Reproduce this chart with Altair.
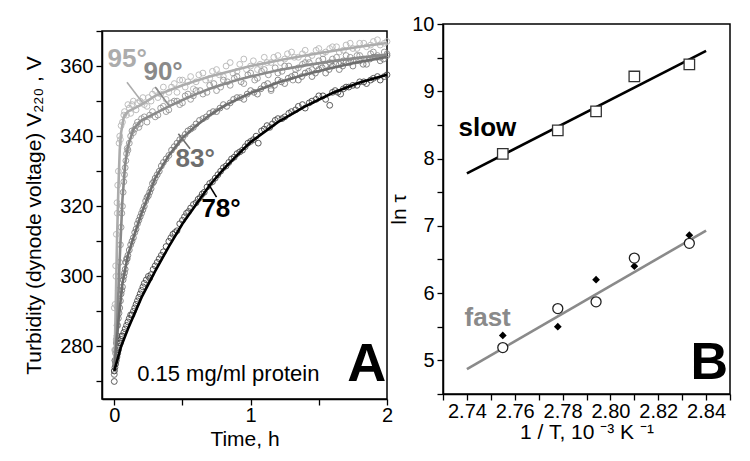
import altair as alt
import pandas as pd

FONT = "Liberation Sans"

# ---------------- Panel A: turbidity kinetics ----------------
curves = ["95°", "90°", "83°", "78°"]
line_colors = ["#acacac", "#8a8a8a", "#6e6e6e", "#000000"]
point_colors = ["#b8b8b8", "#969696", "#7c7c7c", "#4a4a4a"]

# measured points (time h, V220 V)
t95 = [0.000, 0.003, 0.000, 0.006, 0.010, 0.015, 0.020, 0.025, 0.030, 0.035, 0.040, 0.050, 0.060, 0.075,
       0.090, 0.110, 0.130, 0.160, 0.190, 0.220, 0.250, 0.280, 0.320, 0.360, 0.400, 0.440, 0.480, 0.520,
       0.560, 0.600, 0.650, 0.700, 0.750, 0.800, 0.850, 0.900, 0.950, 1.000, 1.050, 1.100, 1.150, 1.200,
       1.250, 1.300, 1.350, 1.400, 1.450, 1.500, 1.550, 1.600, 1.650, 1.700, 1.750, 1.800, 1.850, 1.900,
       1.950, 2.000,
       0.012, 0.022, 0.045, 0.070, 0.100, 0.120, 0.140, 0.170, 0.210, 0.240, 0.270, 0.300, 0.340, 0.380,
       0.420, 0.460, 0.500, 0.540, 0.580, 0.620, 0.670, 0.720, 0.770, 0.820, 0.870, 0.920, 0.970, 1.020,
       1.070, 1.120, 1.170, 1.220, 1.270, 1.320, 1.380, 1.420, 1.480, 1.530, 1.580, 1.630, 1.680, 1.730,
       1.780, 1.830, 1.880, 1.930, 1.980]
v95 = [272, 279, 291, 292, 303, 312, 321, 326, 330, 338, 340, 343, 344, 347,
       346, 348, 349, 347.5, 350, 349, 351, 352, 351, 354, 352.5, 355, 356, 354,
       357, 355.5, 358, 356.5, 359, 357, 361, 358.5, 362, 360, 359, 362.5, 361, 363,
       362, 364, 362.5, 364.5, 363, 365, 364, 365.5, 364, 366, 365, 366.5, 365.5, 367,
       366, 367,
       300, 318, 339, 346, 349, 346.5, 350, 349.5, 351, 348.5, 350, 353, 352, 350.5,
       354, 352.5, 356, 355.5, 353.5, 357.5, 356, 358.5, 357.5, 360, 358, 360.5, 359, 361.5,
       360.5, 361, 362.5, 361, 363.5, 362.5, 363.5, 362, 364.5, 363.5, 365, 365.5, 364.5, 366.5,
       365, 366.5, 366, 367.5, 366.5]

t90 = [0.000, 0.005, 0.010, 0.020, 0.030, 0.040, 0.050, 0.060, 0.070, 0.080, 0.090, 0.100, 0.120, 0.140,
       0.160, 0.180, 0.200, 0.240, 0.280, 0.320, 0.360, 0.400, 0.440, 0.480, 0.520, 0.560, 0.600, 0.650,
       0.700, 0.750, 0.800, 0.850, 0.900, 0.950, 1.000, 1.050, 1.100, 1.150, 1.200, 1.250, 1.310, 1.350,
       1.400, 1.450, 1.500, 1.550, 1.600, 1.650, 1.700, 1.750, 1.800, 1.850, 1.900, 1.950, 2.000,
       0.015, 0.025, 0.035, 0.045, 0.055, 0.065, 0.075, 0.085, 0.095, 0.110, 0.130, 0.150, 0.170, 0.190,
       0.220, 0.260, 0.300, 0.340, 0.380, 0.420, 0.460, 0.500, 0.540, 0.580, 0.630, 0.680, 0.730, 0.780,
       0.830, 0.880, 0.930, 0.980, 1.030, 1.080, 1.130, 1.180, 1.230, 1.280, 1.330, 1.380, 1.430, 1.480,
       1.530, 1.580, 1.630, 1.680, 1.730, 1.780, 1.830, 1.880, 1.930, 1.980]
v90 = [273, 276, 279, 286, 296, 304, 314, 320, 327, 331, 335, 336, 340, 341,
       343, 342.5, 345, 344, 347, 346, 348.5, 347.5, 350, 349, 351.5, 350.5, 353, 352,
       354.5, 353, 356, 354.5, 357, 355, 358, 356.5, 359, 353, 358, 360, 356, 359.5,
       361, 359, 361.5, 360, 362, 360.5, 363, 361.5, 363, 362, 364, 362.5, 363.5,
       282, 291, 300, 309, 318, 324, 329, 333, 336.5, 338, 341.5, 342, 344, 343.5,
       345.5, 346, 345.5, 348, 347, 349.5, 350, 349.5, 352, 351.5, 353, 352.5, 355, 354,
       355.5, 356.5, 355.5, 357.5, 356, 358.5, 357.5, 359.5, 358.5, 360, 359, 360.5, 361, 360,
       362, 361, 362.5, 361.5, 362.5, 363, 362, 363.5, 363, 364]

t83 = [0.000, 0.010, 0.020, 0.030, 0.040, 0.050, 0.060, 0.070, 0.080, 0.090, 0.100, 0.120, 0.140, 0.160,
       0.180, 0.200, 0.220, 0.240, 0.260, 0.280, 0.300, 0.330, 0.360, 0.400, 0.440, 0.480, 0.520, 0.560,
       0.600, 0.650, 0.700, 0.750, 0.800, 0.850, 0.900, 0.950, 1.000, 1.050, 1.100, 1.150, 1.200, 1.250,
       1.300, 1.350, 1.400, 1.450, 1.500, 1.550, 1.600, 1.650, 1.700, 1.750, 1.800, 1.850, 1.900, 1.950,
       2.000,
       0.005, 0.015, 0.025, 0.035, 0.045, 0.055, 0.065, 0.075, 0.085, 0.095, 0.110, 0.130, 0.150, 0.170,
       0.190, 0.210, 0.230, 0.250, 0.270, 0.290, 0.315, 0.345, 0.380, 0.420, 0.460, 0.500, 0.540, 0.580,
       0.625, 0.675, 0.725, 0.775, 0.825, 0.875, 0.925, 0.975, 1.025, 1.075, 1.125, 1.175, 1.225, 1.275,
       1.325, 1.375, 1.425, 1.475, 1.525, 1.575, 1.625, 1.675, 1.725, 1.775, 1.825, 1.875, 1.925, 1.975]
v83 = [272, 278, 283, 288, 291, 295, 297, 300, 302, 305, 306, 309, 311, 313.5,
       316, 318, 320, 322.5, 324, 326.5, 328, 330, 332.5, 334.5, 337, 339, 340.5, 342,
       343.5, 345, 346.5, 347, 349, 349.5, 351, 350.5, 353, 352, 354.5, 353.5, 356, 355,
       357, 356, 358, 357, 359, 358, 360, 359, 361, 360, 361.5, 360.5, 362.5, 361.5,
       363,
       276, 281, 286, 289.5, 293, 296, 299, 301, 304, 305, 307.5, 310, 312.5, 315,
       317, 319, 321.5, 323, 325, 327, 329, 331.5, 333.5, 336, 338, 339.5, 341.5, 342.5,
       344.5, 345.5, 347, 348, 348.5, 350.5, 351, 352, 352.5, 353.5, 355, 354.5, 355.5, 356.5,
       357.5, 357, 358.5, 358, 359.5, 359, 360.5, 360, 361, 361.5, 360.5, 362, 362.5, 362]

t78 = [0.000, 0.000, 0.010, 0.020, 0.030, 0.040, 0.050, 0.060, 0.080, 0.100, 0.120, 0.140, 0.160, 0.180,
       0.200, 0.220, 0.250, 0.270, 0.300, 0.330, 0.360, 0.400, 0.430, 0.460, 0.500, 0.530, 0.560, 0.600,
       0.630, 0.660, 0.700, 0.740, 0.780, 0.820, 0.860, 0.900, 0.940, 0.980, 1.020, 1.056, 1.080, 1.120,
       1.160, 1.200, 1.250, 1.300, 1.350, 1.400, 1.450, 1.500, 1.550, 1.580, 1.620, 1.660, 1.700, 1.750,
       1.800, 1.850, 1.900, 1.950, 2.000,
       0.005, 0.015, 0.025, 0.035, 0.045, 0.055, 0.070, 0.090, 0.110, 0.130, 0.150, 0.170, 0.190, 0.210,
       0.235, 0.260, 0.285, 0.315, 0.345, 0.380, 0.415, 0.445, 0.480, 0.515, 0.545, 0.580, 0.615, 0.645,
       0.680, 0.720, 0.760, 0.800, 0.840, 0.880, 0.920, 0.960, 1.000, 1.040, 1.100, 1.140, 1.180, 1.230,
       1.280, 1.330, 1.380, 1.430, 1.480, 1.530, 1.600, 1.640, 1.680, 1.720, 1.780, 1.830, 1.880, 1.930,
       1.980]
v78 = [270, 273, 275, 277, 279, 281, 282, 283, 285, 287, 289, 290, 292, 294,
       296, 298, 300, 300.5, 303, 305, 307, 310, 312, 313, 316, 318, 319.5, 321,
       322.5, 324, 326.5, 328, 330, 331.5, 333.5, 335, 336, 338, 339, 338, 341.5, 343,
       343.5, 345, 345.5, 347, 348.5, 348, 350, 351.5, 350.5, 348.8, 353, 352, 354, 354.5,
       355.5, 355, 356.5, 356, 357.5,
       274, 276, 278, 280, 281, 283, 284, 286, 288, 289, 291, 293, 295, 297,
       299, 299.5, 302, 304, 306, 308.5, 311, 312.5, 315, 317, 318.5, 320.5, 322, 323.5,
       325.5, 327, 329, 331, 332.5, 334, 335.5, 337, 338.5, 340, 342, 342.5, 344.5, 345,
       346.5, 347.5, 349, 349.5, 350.5, 351.5, 352.5, 352.5, 353.5, 354, 354.5, 355.5, 356, 357,
       357]

# fitted curves
ft95 = [0, 0.01, 0.02, 0.03, 0.04, 0.05, 0.07, 0.1, 0.15, 0.2, 0.3, 0.4, 0.5, 0.6, 0.7, 0.8, 0.9, 1.0,
        1.2, 1.4, 1.6, 1.8, 2.0]
fv95 = [273, 290, 310, 325, 336, 341, 345.5, 347, 348, 349, 351.5, 353, 354.5, 355.8, 357, 358, 359, 360,
        361.6, 363, 364.3, 365.5, 366.6]
ft90 = [0, 0.02, 0.04, 0.06, 0.08, 0.1, 0.14, 0.2, 0.3, 0.4, 0.5, 0.6, 0.7, 0.8, 0.9, 1.0, 1.2, 1.4, 1.6,
        1.8, 2.0]
fv90 = [273, 285, 305, 322, 332, 337, 342, 344.5, 346.5, 348.5, 350.3, 352, 353.5, 354.8, 356, 357, 358.8,
        360.2, 361.4, 362.4, 363.2]
ft83 = [0, 0.03, 0.06, 0.1, 0.14, 0.2, 0.26, 0.3, 0.4, 0.5, 0.6, 0.7, 0.8, 0.9, 1.0, 1.2, 1.4, 1.6, 1.8,
        2.0]
fv83 = [273, 287, 298, 306, 311, 318, 324, 328, 334.5, 339.5, 343, 346, 348.5, 350.5, 352.3, 355.3, 357.6,
        359.5, 361.2, 362.6]
ft78 = [0, 0.05, 0.1, 0.15, 0.2, 0.3, 0.4, 0.5, 0.6, 0.7, 0.8, 0.9, 1.0, 1.2, 1.4, 1.6, 1.8, 2.0]
fv78 = [273, 280, 285, 289.5, 294, 301.5, 308.5, 315, 320.5, 326, 330.5, 334.5, 338.3, 344, 348.5, 352.3,
        355.3, 357.5]

# curve labels and pointer lines
lab_t = [0.095, 0.358, 0.593, 0.783]
lab_v = [362, 358.3, 333.4, 319.1]
ptr_t1 = [0.093, 0.30, 0.47, 0.69]
ptr_v1 = [355.4, 354.0, 340.7, 326.4]
ptr_t2 = [0.215, 0.40, 0.556, 0.75]
ptr_v2 = [349.2, 348.8, 336.4, 322.6]

# ---------------- Panel B: Arrhenius plot ----------------
inv_T = [2.755, 2.778, 2.794, 2.810, 2.833]
ln_slow = [8.07, 8.42, 8.70, 9.22, 9.40]
ln_fast_circ = [5.19, 5.77, 5.87, 6.52, 6.74]
ln_fast_diam = [5.37, 5.50, 6.20, 6.40, 6.86]
slow_fit_x = [2.74, 2.84]
slow_fit_y = [7.78, 9.60]
fast_fit_x = [2.74, 2.84]
fast_fit_y = [4.87, 6.93]

# ---------------- build tables ----------------
pts = pd.concat([
    pd.DataFrame({"t": t, "V": v, "curve": c})
    for t, v, c in [(t95, v95, "95°"), (t90, v90, "90°"), (t83, v83, "83°"), (t78, v78, "78°")]
])
fits = pd.concat([
    pd.DataFrame({"t": t, "V": v, "curve": c})
    for t, v, c in [(ft95, fv95, "95°"), (ft90, fv90, "90°"), (ft83, fv83, "83°"), (ft78, fv78, "78°")]
])
labels = pd.DataFrame({"t": lab_t, "V": lab_v, "curve": curves})
ptrs = pd.DataFrame({"t": ptr_t1, "V": ptr_v1, "t2": ptr_t2, "V2": ptr_v2, "curve": curves})

lcolor = alt.Color("curve:N", scale=alt.Scale(domain=curves, range=line_colors), legend=None)

pts["pc"] = pts["curve"].map(dict(zip(curves, point_colors)))

xA = alt.X("t:Q", scale=alt.Scale(domain=[-0.09, 2.0], nice=False, zero=False),
           axis=alt.Axis(values=[0, 0.5, 1, 1.5, 2],
                         labelExpr="datum.value % 1 == 0 ? format(datum.value, 'd') : ''",
                         title="Time, h", labelPadding=0, titlePadding=3))
yA = alt.Y("V:Q", scale=alt.Scale(domain=[265, 370], nice=False, zero=False),
           axis=alt.Axis(values=list(range(270, 371, 10)),
                         labelExpr="datum.value % 20 == 0 ? format(datum.value, 'd') : ''",
                         title="Turbidity (dynode voltage) V₂₂₀ , V", titlePadding=15))

a_pts = alt.Chart(pts).mark_point(shape="circle", filled=False, size=34, strokeWidth=1.0, opacity=0.9).encode(
    x=xA, y=yA, color=alt.Color("pc:N", scale=None))
a_fit = alt.Chart(fits).mark_line(strokeWidth=2.6).encode(x=xA, y=yA, color=lcolor, detail="curve:N")
a_ptr = alt.Chart(ptrs).mark_rule(strokeWidth=1.6).encode(x=xA, y=yA, x2="t2:Q", y2="V2:Q", color=lcolor)
a_lab = alt.Chart(labels).mark_text(font=FONT, fontSize=26, fontWeight="bold").encode(
    x=xA, y=yA, text="curve:N", color=lcolor)

a_note = alt.Chart(pd.DataFrame({"t": [0.168], "V": [272.0], "txt": ["0.15 mg/ml protein"]})).mark_text(
    font=FONT, fontSize=22, align="left", baseline="middle", color="black").encode(x=xA, y=yA, text="txt:N")
a_letter = alt.Chart(pd.DataFrame({"t": [1.995], "V": [266.9], "txt": ["A"]})).mark_text(
    font=FONT, fontSize=54, fontWeight="bold", align="right", baseline="bottom", color="black").encode(
    x=xA, y=yA, text="txt:N")

panelA = alt.layer(a_pts, a_fit, a_ptr, a_lab, a_note, a_letter).properties(width=285, height=368)

spacer = alt.Chart(pd.DataFrame({"s": [0]})).mark_point(opacity=0).encode(
    x=alt.value(0), y=alt.value(0)).properties(width=285, height=1, view=alt.ViewBackground(strokeOpacity=0))

leftcol = alt.vconcat(spacer, panelA, spacing=-7)

# panel B
xB = alt.X("x:Q", scale=alt.Scale(domain=[2.73, 2.85], nice=False, zero=False),
           axis=alt.Axis(values=[round(2.73 + 0.01 * i, 2) for i in range(13)],
                         labelExpr="round(datum.value * 100) % 2 == 0 ? format(datum.value, '.2f') : ''",
                         title="1 / T, 10 ⁻³   K ⁻¹", labelPadding=1, titlePadding=0))
yB = alt.Y("y:Q", scale=alt.Scale(domain=[4.5, 10], nice=False, zero=False),
           axis=alt.Axis(values=[4.5 + 0.5 * i for i in range(12)],
                         labelExpr="datum.value % 1 == 0 ? format(datum.value, 'd') : ''",
                         title="ln τ", titlePadding=2))

b_slow_line = alt.Chart(pd.DataFrame({"x": slow_fit_x, "y": slow_fit_y})).mark_line(
    color="black", strokeWidth=2.6).encode(x=xB, y=yB)
b_fast_line = alt.Chart(pd.DataFrame({"x": fast_fit_x, "y": fast_fit_y})).mark_line(
    color="#8a8a8a", strokeWidth=2.6).encode(x=xB, y=yB)
b_sq = alt.Chart(pd.DataFrame({"x": inv_T, "y": ln_slow})).mark_point(
    shape="square", filled=True, fill="white", stroke="#333333", strokeWidth=1.3, size=110, opacity=1).encode(
    x=xB, y=yB)
b_diam = alt.Chart(pd.DataFrame({"x": inv_T, "y": ln_fast_diam})).mark_point(
    shape="diamond", filled=True, color="black", size=60, opacity=1).encode(x=xB, y=yB)
b_circ = alt.Chart(pd.DataFrame({"x": inv_T, "y": ln_fast_circ})).mark_point(
    shape="circle", filled=True, fill="white", stroke="#222222", strokeWidth=1.3, size=100, opacity=1).encode(
    x=xB, y=yB)
b_text = alt.Chart(pd.DataFrame({"x": [2.7365, 2.739], "y": [8.45, 5.63], "txt": ["slow", "fast"],
                                 "col": ["#000000", "#8a8a8a"]})).mark_text(
    font=FONT, fontSize=26, fontWeight="bold", align="left", baseline="middle").encode(
    x=xB, y=yB, text="txt:N", color=alt.Color("col:N", scale=None))
b_letter = alt.Chart(pd.DataFrame({"x": [2.8492], "y": [4.56], "txt": ["B"]})).mark_text(
    font=FONT, fontSize=52, fontWeight="bold", align="right", baseline="bottom", color="black").encode(
    x=xB, y=yB, text="txt:N")

panelB = alt.layer(b_slow_line, b_fast_line, b_sq, b_diam, b_circ, b_text, b_letter).properties(
    width=287, height=370)

chart = alt.hconcat(leftcol, panelB, spacing=-6).properties(
    padding={"left": 14, "top": 5, "right": 5, "bottom": 5}
).configure_view(
    stroke="black", strokeWidth=1.5
).configure_axis(
    grid=False, domainColor="black", domainWidth=1.5, tickColor="black", tickWidth=1.3, tickSize=6,
    labelFont=FONT, labelFontSize=20, labelColor="black", labelPadding=3,
    titleFont=FONT, titleFontSize=21, titleFontWeight="normal", titleColor="black",
    labelFlush=False, labelOverlap=False
).configure_title(font=FONT)

chart.save("out.html", embed_options={"renderer": "svg", "actions": False})
